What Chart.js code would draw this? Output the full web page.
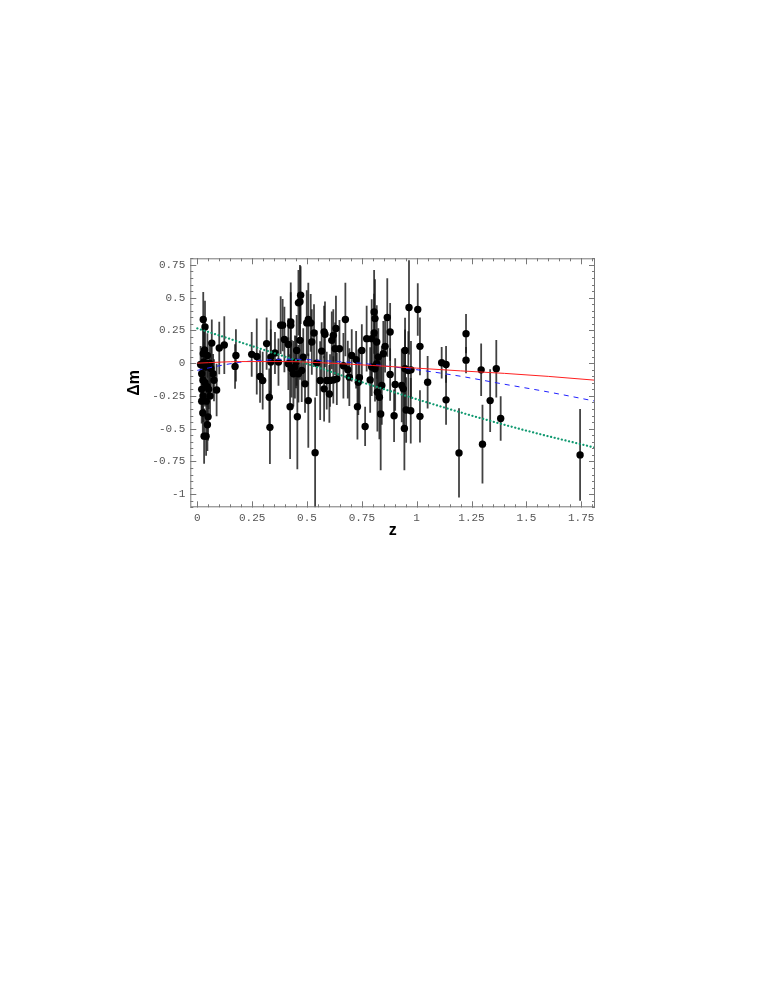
<!DOCTYPE html>
<html lang="en">
<head>
    <meta charset="UTF-8">
    <title>Δm vs z</title>
    <script src="https://cdn.jsdelivr.net/npm/chart.js"></script>
    <style>
        body {
            margin: 0;
            background: #fff;
        }
        canvas {
            display: block;
        }
    </style>
</head>
<body>
    <canvas id="dmChart" width="763" height="987"></canvas>

    <script>
        // supernova points: redshift, residual, error half-length
        const snZ = [
            0.027, 0.035, 0.066, 0.100, 0.123, 0.176, 0.172, 0.027, 0.046, 0.020,
            0.072, 0.076, 0.026, 0.020, 0.052, 0.088, 0.026, 0.020, 0.041, 0.025,
            0.049, 0.046, 0.031, 0.040, 0.030, 0.038, 0.055, 0.062, 0.015, 0.045,
            0.035, 0.058, 0.033,
            0.248, 0.271, 0.286, 0.298, 0.316, 0.335, 0.335, 0.328, 0.331, 0.354,
            0.370, 0.380, 0.389, 0.397, 0.415, 0.415, 0.423, 0.426, 0.426, 0.430,
            0.438, 0.445, 0.453, 0.456, 0.461, 0.468, 0.471, 0.468, 0.476, 0.483,
            0.491, 0.499, 0.506, 0.517, 0.506, 0.522, 0.532, 0.537, 0.544, 0.450,
            0.461, 0.560, 0.567, 0.578, 0.582, 0.578, 0.590, 0.602, 0.605, 0.613,
            0.620, 0.620, 0.632, 0.628, 0.636, 0.648, 0.675, 0.666, 0.686,
            0.693, 0.704, 0.724, 0.730, 0.739, 0.734, 0.750, 0.765, 0.772, 0.788,
            0.795, 0.795, 0.806, 0.810, 0.806, 0.818, 0.810, 0.818, 0.825, 0.821,
            0.830, 0.836, 0.841, 0.848, 0.856, 0.866, 0.879, 0.879, 0.897, 0.902,
            0.932, 0.939, 0.947, 0.947, 0.944, 0.952, 0.962, 0.965, 0.973, 0.974,
            1.005, 1.015, 1.015, 1.050, 1.114, 1.134, 1.134, 1.225, 1.225, 1.294,
            1.363, 1.193, 1.300, 1.335, 1.383, 1.745
        ];
        const snDm = [
            0.333, 0.276, 0.153, 0.115, 0.138, 0.059, -0.025, 0.072, 0.059, -0.080,
            -0.080, -0.130, -0.130, -0.200, -0.200, -0.205, -0.250, -0.290, -0.290, -0.380,
            -0.410, -0.470, -0.557, -0.557, 0.010, -0.030, 0.000, -0.040, -0.010, -0.180,
            -0.150, -0.250, 0.100,
            0.067, 0.051, -0.102, -0.133, 0.149, 0.046, 0.008, -0.260, -0.490, 0.077,
            0.008, 0.290, 0.290, 0.180, 0.143, -0.005, -0.332, 0.315, 0.290, -0.043,
            -0.081, -0.030, 0.097, -0.409, 0.460, 0.468, 0.519, 0.174, -0.056, 0.046,
            -0.158, 0.307, 0.333, 0.307, -0.286, 0.161, 0.230, -0.683, 0.000, 0.008,
            -0.081, -0.133, 0.092, 0.238, 0.220, -0.196, -0.133, -0.235, -0.133, 0.174,
            0.212, -0.128, 0.264, 0.110, -0.120, 0.110, 0.333, -0.020, -0.050,
            -0.107, 0.059, 0.026, -0.332, -0.112, -0.146, 0.097, -0.483, 0.187, -0.128,
            0.187, -0.030, 0.391, 0.340, 0.230, 0.161, -0.043, -0.005, 0.046, -0.222,
            -0.260, -0.388, -0.171, 0.072, 0.128, 0.348, 0.238, -0.087, -0.401, -0.163,
            -0.171, -0.196, 0.097, -0.043, -0.498, -0.357, -0.056, 0.425, -0.363, -0.051,
            0.409, 0.128, -0.406, -0.146, 0.003, -0.010, -0.280, 0.225, 0.023, -0.051,
            -0.043, -0.685, -0.618, -0.286, -0.422, -0.700
        ];
        const snErr = [
            0.21, 0.20, 0.18, 0.20, 0.22, 0.20, 0.17, 0.18, 0.17, 0.16,
            0.15, 0.16, 0.15, 0.18, 0.15, 0.20, 0.20, 0.17, 0.16, 0.17,
            0.18, 0.20, 0.21, 0.15, 0.15, 0.14, 0.16, 0.17, 0.14, 0.15,
            0.18, 0.16, 0.15,
            0.17, 0.29, 0.20, 0.22, 0.20, 0.28, 0.25, 0.22, 0.28, 0.16,
            0.18, 0.22, 0.20, 0.25, 0.20, 0.20, 0.40, 0.30, 0.25, 0.22,
            0.25, 0.24, 0.27, 0.40, 0.25, 0.28, 0.22, 0.30, 0.24, 0.22,
            0.22, 0.25, 0.28, 0.22, 0.36, 0.25, 0.22, 0.42, 0.25, 0.20,
            0.22, 0.30, 0.22, 0.20, 0.25, 0.25, 0.22, 0.22, 0.20, 0.22,
            0.20, 0.18, 0.25, 0.20, 0.20, 0.22, 0.28, 0.25, 0.22,
            0.22, 0.20, 0.22, 0.25, 0.22, 0.25, 0.20, 0.15, 0.25, 0.25,
            0.30, 0.22, 0.32, 0.30, 0.30, 0.28, 0.25, 0.22, 0.22, 0.30,
            0.32, 0.43, 0.30, 0.25, 0.20, 0.30, 0.22, 0.20, 0.20, 0.20,
            0.28, 0.30, 0.25, 0.30, 0.32, 0.25, 0.30, 0.36, 0.25, 0.22,
            0.20, 0.22, 0.20, 0.20, 0.12, 0.14, 0.19, 0.15, 0.10, 0.20,
            0.22, 0.34, 0.30, 0.24, 0.17, 0.35
        ];

        // model curves
        const redZ = [0, 0.2, 0.4, 0.6, 0.8, 1.0, 1.2, 1.4, 1.6, 1.813];
        const redDm = [0.0, 0.012, 0.012, 0.0, -0.018, -0.038, -0.059, -0.078, -0.101, -0.13];
        const blueZ = [0, 0.1, 0.2, 0.3, 0.4, 0.5, 0.6, 0.74, 0.9, 1.0, 1.2, 1.38, 1.6, 1.813];
        const blueDm = [-0.055, -0.02, 0.008, 0.022, 0.03, 0.027, 0.016, 0.0, -0.03, -0.05, -0.1, -0.155, -0.22, -0.29];
        const greenZ = [0, 0.25, 0.5, 0.75, 1.0, 1.25, 1.5, 1.813];
        const greenDm = [0.265, 0.13, -0.005, -0.145, -0.275, -0.40, -0.515, -0.645];

        const xTicks = [0, 0.25, 0.5, 0.75, 1, 1.25, 1.5, 1.75];
        const yTicks = [-1, -0.75, -0.5, -0.25, 0, 0.25, 0.5, 0.75];

        const toPoints = (xs, ys) => xs.map((x, i) => ({ x: x, y: ys[i] }));

        const frameTicks = {
            id: 'frameTicks',
            beforeDatasetsDraw(chart) {
                const { ctx, chartArea, scales } = chart;
                ctx.save();
                ctx.beginPath();
                ctx.rect(chartArea.left, chartArea.top, chartArea.right - chartArea.left, chartArea.bottom - chartArea.top);
                ctx.clip();
                ctx.strokeStyle = 'rgba(25,25,25,0.82)';
                ctx.lineWidth = 1.8;
                snZ.forEach((z, i) => {
                    const px = scales.x.getPixelForValue(z);
                    ctx.beginPath();
                    ctx.moveTo(px, scales.y.getPixelForValue(snDm[i] + snErr[i]));
                    ctx.lineTo(px, scales.y.getPixelForValue(snDm[i] - snErr[i]));
                    ctx.stroke();
                });
                ctx.restore();
            },
            afterDraw(chart) {
                const { ctx, chartArea: a, scales } = chart;
                ctx.save();
                ctx.strokeStyle = '#777';
                ctx.lineWidth = 1;
                ctx.strokeRect(a.left + 0.5, a.top + 0.5, a.right - a.left - 1, a.bottom - a.top - 1);

                const tick = (horizontal, v, len) => {
                    ctx.beginPath();
                    if (horizontal) {
                        const p = Math.round(scales.x.getPixelForValue(v)) + 0.5;
                        ctx.moveTo(p, a.bottom); ctx.lineTo(p, a.bottom - len);
                        ctx.moveTo(p, a.top); ctx.lineTo(p, a.top + len);
                    } else {
                        const p = Math.round(scales.y.getPixelForValue(v)) + 0.5;
                        ctx.moveTo(a.left, p); ctx.lineTo(a.left + len, p);
                        ctx.moveTo(a.right, p); ctx.lineTo(a.right - len, p);
                    }
                    ctx.stroke();
                };
                for (let k = 0; k * 0.05 <= 1.8; k++) tick(true, k * 0.05, 3);
                for (let k = -22; k * 0.05 <= 0.8; k++) tick(false, k * 0.05, 3);
                xTicks.forEach(v => tick(true, v, 6));
                yTicks.forEach(v => tick(false, v, 6));
                ctx.restore();
            }
        };

        const tickFont = { family: "'Liberation Mono', 'DejaVu Sans Mono', monospace", size: 11 };
        const titleFont = { family: "'Liberation Sans', Arial, sans-serif", size: 16, weight: 'bold' };

        new Chart(document.getElementById('dmChart').getContext('2d'), {
            type: 'scatter',
            data: {
                datasets: [
                    {
                        type: 'line', data: toPoints(redZ, redDm), borderColor: '#ff2020', borderWidth: 1,
                        pointRadius: 0, cubicInterpolationMode: 'monotone', order: 0
                    },
                    {
                        type: 'line', data: toPoints(blueZ, blueDm), borderColor: '#2020ff', borderWidth: 1,
                        borderDash: [5, 5], pointRadius: 0, cubicInterpolationMode: 'monotone', order: 0
                    },
                    {
                        type: 'line', data: toPoints(greenZ, greenDm), borderColor: '#109970', borderWidth: 2.2,
                        borderDash: [0.1, 3.6], borderCapStyle: 'round', pointRadius: 0,
                        cubicInterpolationMode: 'monotone', order: 0
                    },
                    {
                        data: toPoints(snZ, snDm), backgroundColor: '#000', borderColor: '#000',
                        pointRadius: 3.7, borderWidth: 0, order: 1
                    }
                ]
            },
            options: {
                responsive: false,
                animation: false,
                layout: { padding: { left: 120, top: 258.3, right: 168, bottom: 439.7 } },
                plugins: { legend: { display: false }, tooltip: { enabled: false } },
                scales: {
                    x: {
                        type: 'linear', min: -0.032, max: 1.813,
                        afterFit(scale) { scale.height = 40; },
                        afterBuildTicks(scale) { scale.ticks = xTicks.map(v => ({ value: v })); },
                        grid: { display: false, drawTicks: false },
                        border: { display: false },
                        ticks: { font: tickFont, color: '#555', padding: 4, maxRotation: 0, callback: v => String(v) },
                        title: { display: true, text: 'z', font: titleFont, color: '#000', padding: { top: 0, bottom: 7 } }
                    },
                    y: {
                        type: 'linear', min: -1.1, max: 0.8,
                        afterFit(scale) { scale.width = 70.3; },
                        afterBuildTicks(scale) { scale.ticks = yTicks.map(v => ({ value: v })); },
                        grid: { display: false, drawTicks: false },
                        border: { display: false },
                        ticks: { font: tickFont, color: '#555', padding: 5, callback: v => String(v) },
                        title: { display: true, text: 'Δm', font: titleFont, color: '#000', padding: { top: 5, bottom: 0 } }
                    }
                }
            },
            plugins: [frameTicks]
        });
    </script>
</body>
</html>
